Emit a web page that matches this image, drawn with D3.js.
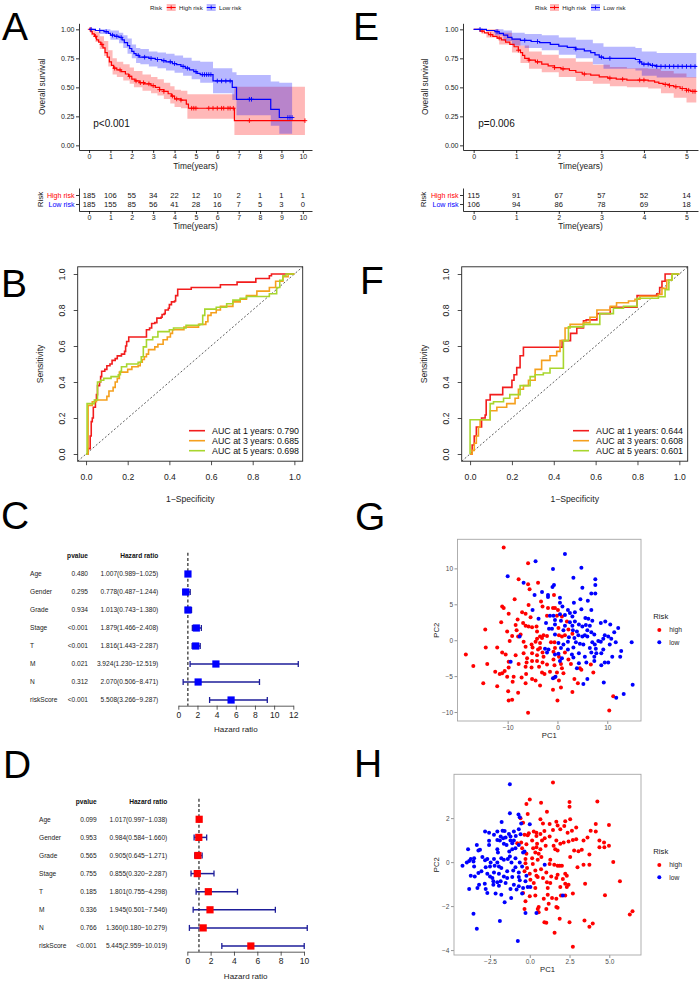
<!DOCTYPE html>
<html><head><meta charset="utf-8">
<script src="https://cdn.jsdelivr.net/npm/d3@7/dist/d3.min.js"></script>
<style>
html,body{margin:0;padding:0;background:#fff;}
svg{display:block;font-family:"Liberation Sans",Arial,Helvetica,sans-serif;}
</style></head><body>
<svg id="fig" width="700" height="981"></svg>
<script>
// ================= DATA =================
const kmA_timeTicks = [0,1,2,3,4,5,6,7,8,9,10];
const kmE_timeTicks = [0,1,2,3,4,5];
const km_survTicks = [0,0.25,0.5,0.75,1];
const km_survLabels = ["0.00","0.25","0.50","0.75","1.00"];
const km_groups = ["High risk","Low risk"];

// [time, survival]
const kmA_high = [[0,1],[0.08,0.98],[0.15,0.96],[0.25,0.94],[0.35,0.91],[0.45,0.89],[0.55,0.87],[0.65,0.84],[0.75,0.80],[0.85,0.76],[0.95,0.72],[1.05,0.69],[1.15,0.665],[1.3,0.65],[1.5,0.635],[1.7,0.615],[1.85,0.595],[2.0,0.57],[2.15,0.555],[2.35,0.54],[2.6,0.53],[2.9,0.515],[3.1,0.50],[3.3,0.48],[3.5,0.465],[3.7,0.445],[3.85,0.425],[4.0,0.40],[4.3,0.39],[4.55,0.355],[4.65,0.32],[6.8,0.213],[10.1,0.213]];
// [time, lower, upper]
const kmA_highCI = [[0,1,1],[0.1,0.95,1],[0.3,0.89,0.98],[0.5,0.83,0.94],[0.7,0.77,0.9],[0.9,0.68,0.82],[1.1,0.61,0.75],[1.3,0.59,0.72],[1.6,0.56,0.70],[1.9,0.53,0.67],[2.1,0.50,0.64],[2.5,0.47,0.61],[2.9,0.45,0.59],[3.2,0.43,0.57],[3.5,0.40,0.54],[3.8,0.36,0.51],[4.0,0.33,0.48],[4.3,0.32,0.47],[4.6,0.23,0.44],[6.8,0.09,0.505],[10.1,0.09,0.505]];
const kmA_highCens = [0.05,0.3,0.6,1.2,1.45,1.9,2.2,2.4,2.55,2.8,3.0,3.3,3.5,3.9,4.1,4.3,4.8,4.9,5.0,5.6,5.8,6.0,6.2,6.3,6.5,6.6,6.75,7.5,10.1];
const kmA_low = [[0,1],[0.3,0.99],[0.7,0.98],[0.9,0.965],[1.0,0.95],[1.2,0.94],[1.4,0.93],[1.55,0.91],[1.65,0.885],[1.8,0.86],[1.9,0.835],[2.0,0.81],[2.1,0.79],[2.2,0.775],[2.35,0.76],[2.8,0.75],[3.1,0.74],[3.4,0.73],[3.6,0.72],[3.9,0.705],[4.1,0.695],[4.3,0.68],[4.5,0.665],[4.7,0.65],[4.9,0.635],[5.05,0.62],[5.2,0.61],[5.8,0.555],[6.7,0.50],[6.9,0.397],[8.5,0.31],[8.9,0.24],[9.5,0.24]];
const kmA_lowCI = [[0,1,1],[0.5,0.96,1],[1.0,0.91,0.99],[1.4,0.88,0.97],[1.6,0.84,0.95],[1.8,0.79,0.92],[2.0,0.75,0.87],[2.2,0.71,0.84],[2.4,0.70,0.83],[2.8,0.68,0.81],[3.2,0.665,0.80],[3.6,0.645,0.79],[4.0,0.625,0.775],[4.4,0.60,0.755],[4.8,0.57,0.73],[5.2,0.54,0.72],[5.8,0.45,0.665],[6.7,0.39,0.63],[6.9,0.26,0.606],[8.5,0.17,0.55],[8.9,0.10,0.54],[9.5,0.10,0.54]];
const kmA_lowCens = [0.1,0.5,0.8,1.1,1.3,1.5,2.3,2.6,2.9,3.2,3.5,3.8,4.0,4.4,4.6,5.0,5.3,5.4,5.5,5.6,5.7,6.0,6.2,6.4,6.6,7.5,7.6,9.3,9.4,9.5];
const kmA_pval = "p<0.001";
const riskA_high = [185,106,55,34,22,12,10,2,1,1,1];
const riskA_low  = [185,155,85,56,41,28,16,7,5,3,0];

const kmE_high = [[0,1],[0.15,0.985],[0.25,0.97],[0.35,0.955],[0.45,0.94],[0.55,0.925],[0.65,0.91],[0.75,0.89],[0.85,0.87],[0.95,0.85],[1.05,0.82],[1.1,0.80],[1.15,0.775],[1.2,0.75],[1.3,0.735],[1.45,0.72],[1.6,0.70],[1.75,0.685],[1.9,0.67],[2.05,0.66],[2.25,0.645],[2.4,0.63],[2.55,0.615],[2.75,0.605],[2.95,0.59],[3.15,0.58],[3.35,0.57],[3.6,0.563],[4.1,0.556],[4.25,0.545],[4.35,0.535],[4.45,0.525],[4.6,0.515],[4.7,0.505],[4.85,0.49],[5.0,0.475],[5.1,0.465],[5.23,0.465]];
const kmE_highCI = [[0,1,1],[0.3,0.93,1],[0.6,0.87,0.97],[0.9,0.80,0.92],[1.1,0.71,0.86],[1.3,0.66,0.81],[1.6,0.63,0.78],[2.0,0.59,0.75],[2.4,0.555,0.72],[2.8,0.53,0.695],[3.2,0.51,0.675],[3.6,0.50,0.665],[4.1,0.49,0.66],[4.4,0.45,0.64],[4.7,0.41,0.62],[5.0,0.37,0.59],[5.23,0.36,0.58]];
const kmE_highCens = [0.2,0.4,0.6,1.05,1.3,1.5,1.9,2.1,2.6,3.2,3.5,3.9,4.0,4.5,4.6,4.75,4.9,5.0,5.05,5.15,5.2];
const kmE_low = [[0,1],[0.3,0.99],[0.5,0.98],[0.6,0.965],[0.7,0.95],[0.8,0.93],[0.9,0.915],[1.1,0.905],[1.35,0.895],[1.55,0.885],[1.8,0.87],[2.0,0.855],[2.2,0.845],[2.4,0.83],[2.6,0.815],[2.75,0.80],[2.85,0.78],[2.95,0.76],[3.05,0.75],[3.8,0.74],[3.9,0.72],[3.95,0.70],[4.15,0.69],[4.3,0.68],[5.23,0.68]];
const kmE_lowCI = [[0,1,1],[0.5,0.95,1],[0.7,0.90,0.99],[0.9,0.86,0.97],[1.2,0.84,0.96],[1.6,0.82,0.95],[2.0,0.78,0.93],[2.4,0.75,0.91],[2.8,0.70,0.88],[3.05,0.66,0.85],[3.8,0.645,0.84],[3.95,0.60,0.81],[4.3,0.585,0.795],[5.23,0.585,0.795]];
const kmE_lowCens = [0.15,0.55,1.2,1.5,2.4,3.0,3.2,3.9,4.0,4.1,4.2,4.3,4.4,4.5,4.6,4.7,4.8,4.9,5.0,5.1,5.2];
const kmE_pval = "p=0.006";
const riskE_high = [115,91,67,57,52,14];
const riskE_low  = [106,94,86,78,69,18];

// ROC: [1-specificity, sensitivity]
const roc_years = [1,3,5];
const roc_ticks = [0,0.2,0.4,0.6,0.8,1.0];
const rocB_auc = [0.790,0.685,0.698];
const rocB_1 = [[0,0],[0.01,0],[0.01,0.03],[0.02,0.03],[0.02,0.1],[0.025,0.1],[0.025,0.18],[0.03,0.2],[0.035,0.26],[0.045,0.3],[0.05,0.33],[0.055,0.38],[0.065,0.40],[0.07,0.43],[0.075,0.46],[0.09,0.47],[0.1,0.49],[0.115,0.50],[0.125,0.52],[0.14,0.53],[0.15,0.545],[0.17,0.555],[0.185,0.57],[0.19,0.6],[0.195,0.625],[0.205,0.65],[0.285,0.65],[0.29,0.69],[0.305,0.70],[0.315,0.725],[0.33,0.73],[0.34,0.755],[0.36,0.76],[0.365,0.775],[0.375,0.78],[0.38,0.80],[0.395,0.81],[0.40,0.83],[0.41,0.845],[0.425,0.85],[0.43,0.88],[0.44,0.915],[0.5,0.915],[0.505,0.925],[0.64,0.925],[0.645,0.94],[0.72,0.94],[0.725,0.955],[0.81,0.955],[0.815,0.975],[0.875,0.975],[0.88,0.99],[0.89,1],[1,1]];
const rocB_3 = [[0,0],[0.005,0],[0.01,0.1],[0.01,0.27],[0.03,0.29],[0.05,0.30],[0.08,0.30],[0.1,0.32],[0.11,0.35],[0.13,0.37],[0.14,0.40],[0.15,0.42],[0.16,0.455],[0.2,0.47],[0.22,0.485],[0.25,0.49],[0.26,0.51],[0.27,0.525],[0.28,0.54],[0.29,0.555],[0.3,0.58],[0.33,0.595],[0.345,0.61],[0.37,0.635],[0.39,0.65],[0.405,0.67],[0.415,0.69],[0.47,0.705],[0.54,0.72],[0.575,0.735],[0.585,0.77],[0.6,0.785],[0.625,0.80],[0.645,0.82],[0.705,0.845],[0.74,0.86],[0.77,0.88],[0.82,0.905],[0.88,0.925],[0.91,0.96],[0.945,0.985],[0.97,1],[1,1]];
const rocB_5 = [[0,0],[0.005,0.28],[0.04,0.30],[0.055,0.40],[0.07,0.41],[0.085,0.42],[0.12,0.43],[0.155,0.44],[0.165,0.46],[0.17,0.485],[0.195,0.50],[0.25,0.51],[0.265,0.54],[0.275,0.595],[0.29,0.635],[0.32,0.65],[0.345,0.68],[0.40,0.69],[0.42,0.70],[0.48,0.715],[0.545,0.72],[0.56,0.77],[0.57,0.805],[0.625,0.815],[0.675,0.835],[0.705,0.855],[0.74,0.865],[0.77,0.875],[0.88,0.89],[0.915,0.925],[0.93,0.965],[0.945,0.99],[0.96,1],[1,1]];
const rocF_auc = [0.644,0.608,0.601];
const rocF_1 = [[0,0],[0.01,0],[0.01,0.05],[0.02,0.05],[0.02,0.1],[0.03,0.15],[0.05,0.15],[0.055,0.2],[0.072,0.217],[0.077,0.30],[0.096,0.33],[0.156,0.37],[0.2,0.41],[0.21,0.44],[0.223,0.48],[0.239,0.546],[0.255,0.593],[0.44,0.63],[0.48,0.67],[0.51,0.70],[0.542,0.74],[0.555,0.745],[0.606,0.78],[0.67,0.815],[0.798,0.88],[0.893,0.89],[0.906,0.925],[0.917,0.96],[0.932,1],[1,1]];
const rocF_3 = [[0,0],[0.01,0.02],[0.02,0.06],[0.03,0.1],[0.04,0.15],[0.048,0.19],[0.096,0.24],[0.128,0.26],[0.175,0.28],[0.215,0.31],[0.231,0.36],[0.255,0.38],[0.279,0.41],[0.311,0.47],[0.342,0.52],[0.382,0.546],[0.414,0.57],[0.43,0.63],[0.454,0.70],[0.478,0.72],[0.542,0.73],[0.573,0.76],[0.606,0.80],[0.67,0.82],[0.70,0.84],[0.757,0.85],[0.788,0.86],[0.812,0.876],[0.9,0.887],[0.917,0.92],[0.94,0.967],[0.965,1],[1,1]];
const rocF_5 = [[0,0],[0,0.19],[0.05,0.19],[0.096,0.28],[0.112,0.29],[0.16,0.31],[0.19,0.33],[0.239,0.38],[0.287,0.43],[0.311,0.44],[0.35,0.45],[0.382,0.476],[0.446,0.63],[0.47,0.706],[0.542,0.72],[0.62,0.78],[0.685,0.81],[0.733,0.82],[0.798,0.865],[0.9,0.874],[0.932,0.913],[0.95,0.967],[0.965,1],[1,1]];

// Forest plots
const forest_vars = ["Age","Gender","Grade","Stage","T","M","N","riskScore"];
const forestC_p  = ["0.480","0.295","0.934","<0.001","<0.001","0.021","0.312","<0.001"];
const forestC_hr = [1.007,0.778,1.013,1.879,1.816,3.924,2.070,5.508];
const forestC_lo = [0.989,0.487,0.743,1.466,1.443,1.230,0.506,3.266];
const forestC_hi = [1.025,1.244,1.380,2.408,2.287,12.519,8.471,9.287];
const forestC_ticks = [0,2,4,6,8,10,12];
const forestD_p  = ["0.099","0.953","0.565","0.755","0.185","0.336","0.766","<0.001"];
const forestD_hr = [1.017,0.984,0.905,0.855,1.801,1.945,1.360,5.445];
const forestD_lo = [0.997,0.584,0.645,0.320,0.755,0.501,0.180,2.959];
const forestD_hi = [1.038,1.660,1.271,2.287,4.298,7.546,10.279,10.019];
const forestD_ticks = [0,2,4,6,8,10];

// PCA: [PC1, PC2]
const pcaG_high = [[-10.8,12.9],[-5.9,10.7],[-7.8,8.5],[-3.9,8.0],[-5.9,7.8],[-5.6,7.1],[-0.7,6.3],[-8.6,5.7],[-3.3,5.4],[-5.8,4.9],[-11.1,4.7],[-10.8,4.5],[-3.0,4.7],[-1.9,4.5],[-0.9,4.5],[-0.5,4.5],[0.1,4.2],[-9.8,3.7],[-7.1,3.9],[-6.4,3.7],[-2.1,3.4],[-0.1,3.4],[0.9,3.3],[-5.4,3.2],[-8.0,2.9],[1.9,2.6],[-11.3,2.5],[-8.4,2.1],[-6.9,2.4],[-6.4,2.0],[-5.8,1.9],[-4.2,1.9],[-14.5,1.5],[-8.2,1.4],[-5.1,1.8],[0.2,1.7],[2.2,1.5],[-10.1,1.2],[-4.1,1.2],[-7.4,0.8],[-9.1,0.6],[-2.8,0.7],[-3.5,0.5],[0.3,0.7],[1.5,0.7],[3.0,0.9],[-7.9,0.5],[-4.1,0.2],[-3.1,0.3],[-2.1,0.6],[0.9,0.5],[-4.4,-0.2],[-3.5,-0.4],[-9.6,-0.1],[-6.8,-0.2],[-1.3,-0.3],[-0.6,-0.3],[-5.2,-0.6],[-14.4,-1.0],[-12.1,-1.0],[-6.4,-0.9],[-5.0,-1.0],[-3.5,-1.1],[-3.9,-1.3],[-0.5,-1.1],[-11.1,-1.7],[-10.4,-2.0],[-8.4,-2.1],[-6.8,-1.8],[-5.1,-1.8],[-3.0,-1.7],[-0.8,-1.6],[1.5,-1.7],[-18.4,-2.0],[-4.1,-2.1],[-2.8,-2.3],[0.3,-2.3],[-9.8,-3.0],[-6.1,-2.5],[-6.2,-3.1],[-5.1,-2.9],[-4.1,-2.9],[-3.0,-3.1],[-0.8,-2.7],[2.2,-2.7],[-16.9,-3.6],[-14.1,-3.3],[-7.8,-3.3],[-2.1,-3.4],[-0.6,-3.5],[0.7,-3.3],[2.7,-3.3],[4.5,-3.9],[6.7,-3.4],[-9.8,-3.8],[-10.6,-4.3],[-6.4,-3.7],[-5.2,-3.8],[-3.7,-3.7],[0.9,-3.9],[4.8,-4.1],[-12.5,-4.4],[-11.6,-4.7],[-11.1,-4.6],[-8.8,-5.1],[-10.1,-5.1],[-6.3,-4.7],[-3.1,-4.5],[-2.6,-4.7],[-1.5,-4.4],[-0.1,-4.5],[1.2,-4.6],[7.2,-4.5],[-9.0,-5.8],[-7.2,-5.2],[-5.1,-5.4],[-4.4,-5.6],[-0.6,-5.2],[0.3,-5.6],[3.4,-5.4],[-14.9,-6.0],[-6.4,-6.0],[4.1,-6.0],[-12.1,-6.4],[-3.5,-6.3],[0.7,-6.6],[-0.9,-6.9],[-7.9,-7.3],[-9.9,-7.1],[3.0,-7.2],[11.2,-7.8],[-9.8,-8.4],[-9.1,-8.3],[0.0,-8.4],[10.4,-9.8],[-5.9,-10.1]];
const pcaG_low = [[1.5,12.0],[-4.4,11.0],[4.8,10.1],[-0.9,9.9],[-10.0,8.9],[3.2,8.7],[7.6,8.5],[-6.8,8.0],[-0.7,7.7],[7.6,7.7],[-1.0,7.4],[5.0,7.3],[-3.1,6.7],[-4.6,6.3],[-1.9,6.3],[6.8,6.5],[7.6,6.5],[-1.9,6.0],[0.5,5.9],[4.6,5.7],[6.1,5.5],[0.5,5.2],[3.3,5.2],[-5.0,4.2],[1.0,4.7],[2.1,4.2],[4.8,4.3],[6.8,4.2],[2.5,3.8],[3.5,3.9],[-1.5,3.4],[-0.8,3.4],[0.5,3.6],[1.5,3.5],[3.0,3.3],[5.6,3.1],[6.2,3.0],[7.0,2.7],[-3.8,3.0],[-0.5,2.8],[0.7,2.7],[2.5,2.5],[3.5,2.6],[-2.3,2.4],[-0.5,2.2],[1.5,2.0],[3.0,2.0],[4.3,2.2],[5.0,1.9],[5.7,2.1],[6.5,2.0],[8.7,2.4],[9.6,2.6],[10.6,2.2],[-1.7,1.6],[-1.1,1.6],[1.2,1.4],[3.1,1.4],[3.9,1.2],[6.0,1.4],[6.8,1.1],[12.2,1.7],[11.4,1.1],[-0.5,0.8],[4.2,0.7],[5.5,0.7],[7.4,0.8],[9.5,0.7],[-7.6,0.5],[2.3,0.4],[3.4,0.3],[5.0,0.5],[6.0,0.5],[8.2,-0.1],[9.2,0.2],[10.2,0.5],[10.8,0.2],[11.7,-0.3],[0.2,-0.4],[1.2,-0.6],[2.1,-0.2],[3.7,-0.3],[4.5,-0.5],[5.2,-0.6],[7.0,-0.3],[7.5,-0.6],[8.7,-0.2],[10.5,-0.6],[-2.5,-1.2],[-1.8,-1.3],[0.7,-1.1],[2.1,-1.3],[3.2,-1.0],[6.5,-1.1],[7.7,-1.2],[9.2,-1.3],[12.8,-1.5],[14.9,-0.3],[-2.1,-1.7],[0.2,-1.9],[2.9,-2.0],[4.3,-1.8],[6.8,-1.7],[7.8,-1.8],[8.8,-1.8],[-0.5,-2.0],[0.9,-2.5],[5.5,-2.3],[7.4,-2.3],[11.0,-2.3],[12.6,-2.3],[-9.4,-3.0],[0.5,-2.9],[3.2,-2.4],[4.3,-3.2],[5.8,-3.1],[7.4,-2.9],[9.5,-3.1],[10.2,-3.1],[3.9,-3.9],[8.8,-3.5],[-0.9,-5.3],[-0.4,-5.1],[6.0,-5.4],[5.2,-6.1],[9.3,-5.9],[15.1,-6.2],[13.3,-7.5],[11.8,-8.0]];
const pcaG_xTicks = [-10,0,10];
const pcaG_yTicks = [-10,-5,0,5,10];

const pcaH_high = [[1.46,3.62],[0.00,2.85],[-0.21,2.64],[0.71,2.70],[2.50,2.73],[2.50,2.52],[4.25,2.76],[1.08,2.29],[-0.13,2.19],[-0.58,1.99],[0.67,1.95],[1.67,1.84],[2.23,1.86],[2.54,1.95],[0.83,1.76],[1.25,1.73],[1.75,1.67],[2.17,1.64],[2.92,1.58],[4.15,1.73],[4.98,1.69],[-0.42,1.79],[-0.06,1.31],[0.25,1.39],[0.42,1.34],[0.67,1.28],[0.92,1.42],[1.46,1.46],[1.92,1.49],[2.38,1.34],[2.65,1.43],[3.83,1.43],[4.15,1.39],[-0.33,1.24],[-0.13,1.22],[0.42,1.19],[0.94,1.09],[1.25,1.16],[3.63,1.12],[-0.79,0.86],[-0.54,0.89],[0.15,0.98],[0.77,0.98],[1.67,0.98],[2.44,0.94],[2.71,1.01],[2.92,1.04],[3.38,0.98],[4.38,0.98],[4.67,0.89],[-0.21,0.81],[0.46,0.83],[1.00,0.74],[1.50,0.74],[1.92,0.83],[2.13,0.89],[4.38,0.68],[4.69,0.68],[4.98,0.74],[-0.48,0.63],[0.21,0.63],[0.42,0.68],[0.67,0.59],[1.60,0.59],[1.75,0.53],[2.79,0.53],[3.06,0.50],[3.27,0.56],[0.35,0.44],[0.56,0.38],[-0.21,0.38],[3.75,0.35],[-0.27,0.14],[0.15,0.18],[0.50,0.11],[0.73,0.23],[1.29,0.11],[5.25,0.00],[2.54,0.23],[-0.27,-0.05],[0.19,-0.08],[1.25,-0.08],[1.54,-0.12],[3.00,-0.23],[3.38,-0.12],[3.75,-0.12],[1.75,-0.17],[1.88,-0.17],[2.02,-0.17],[-0.17,-0.27],[0.71,-0.32],[0.35,-0.38],[-0.33,-0.42],[0.00,-0.53],[1.04,-0.47],[1.75,-0.57],[2.23,-0.53],[2.33,-0.62],[1.35,-0.65],[1.67,-0.72],[0.42,-0.62],[0.50,-0.68],[0.83,-0.72],[2.08,-0.77],[5.67,-0.87],[0.04,-0.80],[0.25,-0.95],[1.08,-0.92],[1.29,-0.95],[2.23,-0.98],[2.44,-1.03],[3.48,-0.98],[0.35,-1.18],[1.13,-1.18],[1.92,-1.13],[2.33,-1.13],[-0.42,-1.40],[0.00,-1.55],[0.35,-1.52],[1.13,-1.48],[1.96,-1.52],[2.23,-1.52],[2.71,-1.43],[4.73,-1.51],[0.88,-1.67],[1.40,-1.63],[1.67,-1.67],[-0.27,-1.78],[1.19,-1.89],[0.56,-2.04],[0.50,-2.13],[1.04,-2.13],[1.67,-2.04],[1.75,-2.08],[-0.33,-2.13],[0.56,-2.28],[6.29,-2.38],[6.46,-2.23],[1.88,-2.58],[0.92,-2.73],[1.04,-2.76],[2.50,-2.73],[3.44,-2.65],[3.96,-2.79],[3.75,-2.94],[1.56,-3.21],[2.71,-3.85]];
const pcaH_low = [[-1.25,3.54],[-1.25,2.22],[-0.71,2.16],[-0.63,2.04],[-1.77,1.83],[-0.54,1.76],[0.00,1.72],[-2.81,1.39],[-2.56,1.34],[-2.04,1.39],[-1.71,1.43],[-1.58,1.42],[-1.31,1.28],[-1.00,1.39],[-0.69,1.49],[-2.25,1.24],[-1.83,1.16],[-1.67,1.09],[-1.52,1.12],[-1.21,1.16],[-0.88,1.19],[-0.58,1.27],[-2.56,0.97],[-2.04,1.01],[-1.88,0.98],[-1.21,0.98],[-1.00,0.98],[-3.33,0.78],[-2.56,0.78],[-1.63,0.83],[-1.46,0.78],[-1.10,0.86],[-0.69,0.78],[-3.88,0.59],[-3.23,0.53],[-3.13,0.56],[-2.04,0.59],[-1.10,0.59],[-0.90,0.63],[-2.00,0.44],[-1.29,0.48],[-0.42,0.44],[-0.33,0.48],[-3.71,0.14],[-3.50,0.18],[-2.98,0.23],[-2.67,0.14],[-2.25,0.14],[-1.79,0.18],[-1.63,0.11],[-1.38,0.14],[-1.25,0.26],[-0.90,0.18],[-3.96,-0.02],[-3.81,0.05],[-3.54,0.03],[-2.81,0.08],[-2.46,-0.02],[-2.04,-0.02],[-1.15,-0.02],[-0.63,-0.02],[0.94,-0.12],[-4.23,-0.17],[-3.50,-0.20],[-2.77,-0.23],[-2.50,-0.20],[-2.21,-0.17],[-1.94,-0.20],[-1.79,-0.27],[-0.90,-0.23],[-0.48,-0.20],[-3.04,-0.42],[-3.23,-0.50],[-2.67,-0.53],[-2.25,-0.47],[-1.94,-0.53],[-1.42,-0.42],[-1.04,-0.38],[-0.69,-0.47],[-3.71,-0.62],[-3.46,-0.65],[-2.50,-0.65],[-2.35,-0.72],[-1.63,-0.65],[-1.42,-0.72],[-1.10,-0.68],[-0.69,-0.68],[-0.21,-0.62],[-2.29,-0.87],[-2.04,-0.92],[-1.83,-0.87],[-1.52,-0.95],[-0.63,-0.83],[-0.27,-0.87],[-3.19,-1.03],[-2.83,-0.98],[-2.29,-1.03],[-1.94,-1.07],[-1.00,-1.03],[-0.69,-1.10],[-0.13,-1.13],[0.04,-1.13],[-3.81,-1.22],[-3.29,-1.18],[-2.77,-1.22],[-1.21,-1.22],[-0.83,-1.25],[-0.42,-1.18],[2.08,-1.52],[-2.67,-1.40],[-2.15,-1.43],[-1.79,-1.48],[-0.48,-1.43],[-1.17,-1.63],[-1.58,-1.83],[-0.27,-2.31],[0.42,-2.31],[-3.54,-2.35],[-1.88,-2.68],[-3.33,-3.03],[-0.75,-3.59]];
const pcaH_xTicks = [-2.5,0,2.5,5];
const pcaH_yTicks = [-4,-2,0,2];
const pca_groups = ["high","low"];

// ================= DRAWING =================
const svg = d3.select('#fig');
const RED = '#ff0000', BLUE = '#0000ff';

function txt(g,x,y,s,size,opt={}){
  const t=g.append('text').attr('x',x).attr('y',y).attr('font-size',size).attr('fill',opt.fill||'#000').text(s);
  if(opt.anchor) t.attr('text-anchor',opt.anchor);
  if(opt.weight) t.attr('font-weight',opt.weight);
  return t;
}
function ctxt(g,x,cy,s,size,opt={}){ return txt(g,x,cy+size*0.355,s,size,opt); }
function vtxt(g,cx,cy,s,size,opt={}){
  return g.append('text').attr('transform',`translate(${cx+size*0.355},${cy}) rotate(-90)`)
    .attr('text-anchor','middle').attr('font-size',size).attr('fill',opt.fill||'#000').text(s);
}
function styleAxis(sel,size,color,stroke,sw){
  sel.attr('font-family',null).attr('font-size',null);
  sel.selectAll('text').attr('font-size',size).attr('fill',color);
  sel.selectAll('line').attr('stroke',stroke).attr('stroke-width',sw);
  sel.selectAll('.domain').attr('stroke',stroke).attr('stroke-width',sw);
}
function survAt(steps,t){ let s=steps[0][1]; for(const d of steps){ if(d[0]<=t) s=d[1]; else break; } return s; }

// ---------- Panel letters ----------
[['A',2,40],['B',1,297],['C',1,529],['D',3,778],['E',353,40],['F',360,294],['G',355,530],['H',354,777]]
  .forEach(([l,x,y])=>txt(svg,x,y,l,39));

// ---------- KM ----------
function drawKM(o){
  const g=svg.append('g');
  const x=d3.scaleLinear().domain(o.xdom).range([o.left,o.right]);
  const y=d3.scaleLinear().domain([-0.04,1.052]).range([150,23.3]);
  const area=d3.area().curve(d3.curveStepAfter).x(d=>x(d[0])).y0(d=>y(d[1])).y1(d=>y(d[2]));
  const line=d3.line().curve(d3.curveStepAfter).x(d=>x(d[0])).y(d=>y(d[1]));
  [[o.highCI,RED],[o.lowCI,BLUE]].forEach(([b,c])=>g.append('path').attr('d',area(b)).attr('fill',c).attr('fill-opacity',0.28));
  [[o.high,o.highCens,RED],[o.low,o.lowCens,BLUE]].forEach(([s,cn,c])=>{
    g.append('path').attr('d',line(s)).attr('fill','none').attr('stroke',c).attr('stroke-width',1.2);
    g.selectAll(null).data(cn).join('path')
      .attr('transform',t=>`translate(${x(t)},${y(survAt(s,t))})`)
      .attr('d','M-2.3,0H2.3M0,-2.3V2.3').attr('stroke',c).attr('stroke-width',0.9);
  });
  const ax=g.append('g').attr('transform','translate(0,150)')
    .call(d3.axisBottom(x).tickValues(o.ticks).tickFormat(d3.format('d')).tickSize(3).tickSizeOuter(0).tickPadding(1.5));
  styleAxis(ax,7,'#222','#000',0.8);
  const ay=g.append('g').attr('transform',`translate(${o.left},0)`)
    .call(d3.axisLeft(y).tickValues(km_survTicks).tickFormat((d,i)=>km_survLabels[i]).tickSize(3).tickSizeOuter(0).tickPadding(1.5));
  styleAxis(ay,7,'#222','#000',0.8);
  vtxt(g,o.ytitleX,86.7,'Overall survival',8.3,{fill:'#222'});
  ctxt(g,(o.left+o.right)/2,166,'Time(years)',8.4,{anchor:'middle',fill:'#222'});
  txt(g,o.pX,127.3,o.pval,10,{fill:'#111'});
  // legend
  const L=o.legend;
  ctxt(g,L[0],7.5,'Risk',6.2,{fill:'#222'});
  [[L[1],L[2],RED,km_groups[0]],[L[3],L[4],BLUE,km_groups[1]]].forEach(([kx,tx,c,lab])=>{
    g.append('rect').attr('x',kx).attr('y',4).attr('width',9).attr('height',7).attr('fill',c).attr('fill-opacity',0.28);
    g.append('line').attr('x1',kx).attr('x2',kx+9).attr('y1',7.5).attr('y2',7.5).attr('stroke',c).attr('stroke-width',1);
    g.append('path').attr('transform',`translate(${kx+4.5},7.5)`).attr('d','M-2,0H2M0,-2V2').attr('stroke',c).attr('stroke-width',0.9);
    ctxt(g,tx,7.5,lab,6.1,{fill:'#222'});
  });
  // risk table
  const ry=d3.scalePoint().domain(km_groups).range([188,211]).padding(0.778);
  const tx=g.append('g').attr('transform','translate(0,211)')
    .call(d3.axisBottom(x).tickValues(o.ticks).tickFormat(d3.format('d')).tickSize(3).tickSizeOuter(0).tickPadding(1.5));
  styleAxis(tx,7,'#222','#000',0.8);
  const ty=g.append('g').attr('transform',`translate(${o.left},0)`)
    .call(d3.axisLeft(ry).tickSize(3).tickSizeOuter(0).tickPadding(1.5));
  styleAxis(ty,7.1,'#000','#000',0.8);
  ty.selectAll('text').attr('fill',(d,i)=>i===0?RED:BLUE);
  [[o.riskHigh,km_groups[0]],[o.riskLow,km_groups[1]]].forEach(([arr,grp])=>{
    g.selectAll(null).data(arr).join('text')
      .attr('x',(d,i)=>x(o.ticks[i])).attr('y',ry(grp)+7.6*0.355).attr('text-anchor','middle')
      .attr('font-size',7.6).attr('fill','#111').text(d=>d);
  });
  vtxt(g,o.ytitleX-1.5,199.5,'Risk',8,{fill:'#222'});
  ctxt(g,(o.left+o.right)/2,226,'Time(years)',8.4,{anchor:'middle',fill:'#222'});
}
drawKM({left:79,right:312,xdom:[-0.47,10.43],ticks:kmA_timeTicks,high:kmA_high,highCI:kmA_highCI,highCens:kmA_highCens,
  low:kmA_low,lowCI:kmA_lowCI,lowCens:kmA_lowCens,pval:kmA_pval,pX:93.3,ytitleX:41.7,
  legend:[150,166.7,179,206.7,219],riskHigh:riskA_high,riskLow:riskA_low});
drawKM({left:463,right:698,xdom:[-0.25,5.27],ticks:kmE_timeTicks,high:kmE_high,highCI:kmE_highCI,highCens:kmE_highCens,
  low:kmE_low,lowCI:kmE_lowCI,lowCens:kmE_lowCens,pval:kmE_pval,pX:478.3,ytitleX:425,
  legend:[535,550,562.3,591,603.3],riskHigh:riskE_high,riskLow:riskE_low});

// ---------- ROC ----------
const ROC_COLS=['#f21d1d','#f5a01e','#a8d62e'];
function drawROC(o){
  const g=svg.append('g');
  const top=266.8,bot=461.2;
  const x=d3.scaleLinear().domain([-0.04,1.04]).range([o.left,o.right]);
  const y=d3.scaleLinear().domain([-0.04,1.04]).range([bot,top]);
  const clipId='clip'+o.id;
  g.append('clipPath').attr('id',clipId).append('rect').attr('x',o.left).attr('y',top).attr('width',o.right-o.left).attr('height',bot-top);
  g.append('line').attr('x1',x(-0.04)).attr('y1',y(-0.04)).attr('x2',x(1.04)).attr('y2',y(1.04))
    .attr('stroke','#333').attr('stroke-width',0.8).attr('stroke-dasharray','2,2');
  const line=d3.line().curve(d3.curveStepAfter).x(d=>x(d[0])).y(d=>y(d[1]));
  o.curves.forEach((c,i)=>g.append('path').attr('d',line(c)).attr('fill','none').attr('stroke',ROC_COLS[i]).attr('stroke-width',1.6).attr('clip-path',`url(#${clipId})`));
  g.append('rect').attr('x',o.left).attr('y',top).attr('width',o.right-o.left).attr('height',bot-top)
    .attr('fill','none').attr('stroke','#222').attr('stroke-width',0.9);
  const ax=g.append('g').attr('transform',`translate(0,${bot})`)
    .call(d3.axisBottom(x).tickValues(roc_ticks).tickFormat(d3.format('.1f')).tickSize(4).tickSizeOuter(0).tickPadding(9.2));
  styleAxis(ax,8.6,'#222','#222',0.8); ax.select('.domain').remove();
  const ay=g.append('g').attr('transform',`translate(${o.left},0)`)
    .call(d3.axisLeft(y).tickValues(roc_ticks).tickFormat(d3.format('.1f')).tickSize(4).tickSizeOuter(0));
  styleAxis(ay,8.6,'#222','#222',0.8); ay.select('.domain').remove();
  ay.selectAll('.tick text').attr('x',0).attr('dy',null).attr('y',-16+8.6*0.355).attr('text-anchor','middle').attr('transform','rotate(-90)');
  vtxt(g,o.left-37.7,364,'Sensitivity',8.6,{fill:'#222'});
  ctxt(g,(x(0)+x(1))/2,499,'1\u2212Specificity',8.6,{anchor:'middle',fill:'#222'});
  o.auc.forEach((a,i)=>{
    const cy=430.7+i*10;
    g.append('line').attr('x1',o.legX).attr('x2',o.legX+16).attr('y1',cy).attr('y2',cy).attr('stroke',ROC_COLS[i]).attr('stroke-width',1.6);
    ctxt(g,o.legX+23,cy,`AUC at ${roc_years[i]} years: ${a.toFixed(3)}`,8.85,{fill:'#111'});
  });
}
drawROC({id:'B',left:77.7,right:302.7,curves:[rocB_1,rocB_3,rocB_5],auc:rocB_auc,legX:189});
drawROC({id:'F',left:461.7,right:687.7,curves:[rocF_1,rocF_3,rocF_5],auc:rocF_auc,legX:573});

// ---------- Forest ----------
function drawForest(o){
  const g=svg.append('g');
  const x=d3.scaleLinear().domain([0,o.ticks[o.ticks.length-1]]).range([o.x0,o.x1]);
  const y=d3.scaleLinear().domain([0,forest_vars.length-1]).range([o.row0,o.row1]);
  const fs=6.6;
  ctxt(g,o.pX,o.headY,'pvalue',fs,{anchor:'end',weight:'bold',fill:'#111'});
  ctxt(g,o.hrX,o.headY,'Hazard ratio',fs,{anchor:'end',weight:'bold',fill:'#111'});
  forest_vars.forEach((v,i)=>{
    ctxt(g,o.nameX,y(i),v,fs,{fill:'#222'});
    ctxt(g,o.pX,y(i),o.p[i],fs,{anchor:'end',fill:'#222'});
    ctxt(g,o.hrX,y(i),`${o.hr[i].toFixed(3)}(${o.lo[i].toFixed(3)}\u2212${o.hi[i].toFixed(3)})`,fs,{anchor:'end',fill:'#222'});
  });
  g.append('line').attr('x1',x(1)).attr('x2',x(1)).attr('y1',o.headY-3).attr('y2',o.axisY)
    .attr('stroke','#111').attr('stroke-width',1.1).attr('stroke-dasharray','3,2.2');
  const bc='#1e1e9a';
  forest_vars.forEach((v,i)=>{
    const yy=y(i);
    g.append('line').attr('x1',x(o.lo[i])).attr('x2',x(o.hi[i])).attr('y1',yy).attr('y2',yy).attr('stroke',bc).attr('stroke-width',1.5);
    [o.lo[i],o.hi[i]].forEach(e=>g.append('line').attr('x1',x(e)).attr('x2',x(e)).attr('y1',yy-3).attr('y2',yy+3).attr('stroke',bc).attr('stroke-width',1.3));
    g.append('rect').attr('x',x(o.hr[i])-3.6).attr('y',yy-3.6).attr('width',7.2).attr('height',7.2).attr('fill',o.color);
  });
  const ax=g.append('g').attr('transform',`translate(0,${o.axisY})`)
    .call(d3.axisBottom(x).tickValues(o.ticks).tickSize(4).tickSizeOuter(0).tickPadding(2));
  styleAxis(ax,8.5,'#222','#333',0.8);
  ctxt(g,(o.x0+o.x1)/2,o.titleY,'Hazard ratio',8,{anchor:'middle',fill:'#222'});
}
drawForest({x0:178.3,x1:293.3,ticks:forestC_ticks,row0:574,row1:700,headY:555.7,nameX:30,pX:88,hrX:158.3,
  axisY:705.7,titleY:729.3,p:forestC_p,hr:forestC_hr,lo:forestC_lo,hi:forestC_hi,color:BLUE});
drawForest({x0:187.3,x1:304,ticks:forestD_ticks,row0:819.3,row1:946,headY:801.7,nameX:39,pX:96.7,hrX:167.3,
  axisY:951.7,titleY:975.7,p:forestD_p,hr:forestD_hr,lo:forestD_lo,hi:forestD_hi,color:RED});

// ---------- PCA ----------
function pad(ext){ const w=ext[1]-ext[0]; return [ext[0]-0.05*w, ext[1]+0.05*w]; }
function drawPCA(o){
  const g=svg.append('g');
  const all=o.high.concat(o.low);
  const x=d3.scaleLinear().domain(pad(d3.extent(all,d=>d[0]))).range([o.left,o.right]);
  const y=d3.scaleLinear().domain(pad(d3.extent(all,d=>d[1]))).range([o.bot,o.top]);
  const fmt=o.fmt;
  const ax=g.append('g').attr('transform',`translate(0,${o.bot})`)
    .call(d3.axisBottom(x).tickValues(o.xTicks).tickFormat(fmt).tickSize(3).tickSizeOuter(0).tickPadding(1.5));
  styleAxis(ax,6.5,'#4d4d4d','#4d4d4d',0.6); ax.select('.domain').remove();
  const ay=g.append('g').attr('transform',`translate(${o.left},0)`)
    .call(d3.axisLeft(y).tickValues(o.yTicks).tickFormat(d3.format('d')).tickSize(3).tickSizeOuter(0).tickPadding(1.5));
  styleAxis(ay,6.5,'#4d4d4d','#4d4d4d',0.6); ay.select('.domain').remove();
  ay.selectAll('text').text(d=>d<0?'\u2212'+Math.abs(d):d);
  [[o.high,RED],[o.low,BLUE]].forEach(([pts,c])=>{
    g.selectAll(null).data(pts).join('circle').attr('cx',d=>x(d[0])).attr('cy',d=>y(d[1])).attr('r',2).attr('fill',c);
  });
  g.append('rect').attr('x',o.left).attr('y',o.top).attr('width',o.right-o.left).attr('height',o.bot-o.top)
    .attr('fill','none').attr('stroke','#a6a6a6').attr('stroke-width',0.9);
  ctxt(g,(o.left+o.right)/2,o.bot+14.7,'PC1',7.7,{anchor:'middle',fill:'#1a1a1a'});
  vtxt(g,436,(o.top+o.bot)/2,'PC2',7.7,{fill:'#1a1a1a'});
  ctxt(g,653.3,o.legY,'Risk',7.7,{fill:'#1a1a1a'});
  pca_groups.forEach((grp,i)=>{
    const cy=o.legY+14+i*12.2;
    g.append('circle').attr('cx',659.3).attr('cy',cy).attr('r',2).attr('fill',i===0?RED:BLUE);
    ctxt(g,669.3,cy,grp,6.7,{fill:'#1a1a1a'});
  });
}
drawPCA({left:457.5,right:641,top:539.3,bot:721,high:pcaG_high,low:pcaG_low,xTicks:pcaG_xTicks,yTicks:pcaG_yTicks,
  fmt:d=>d<0?'\u2212'+Math.abs(d):String(d),legY:616});
drawPCA({left:454,right:641,top:774.3,bot:955,high:pcaH_high,low:pcaH_low,xTicks:pcaH_xTicks,yTicks:pcaH_yTicks,
  fmt:d=>(d<0?'\u2212':'')+Math.abs(d).toFixed(1),legY:851});
</script>
</body></html>
